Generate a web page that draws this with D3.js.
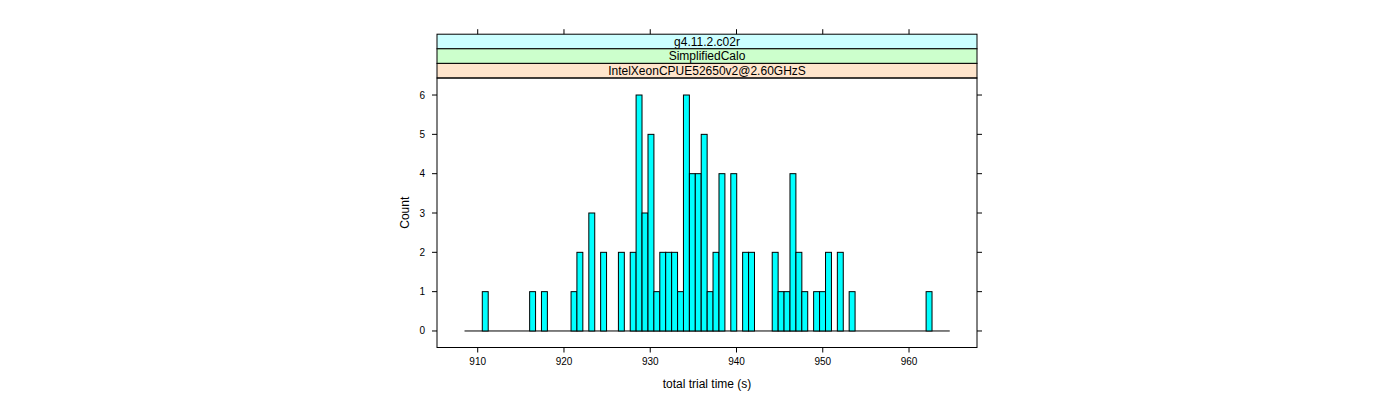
<!DOCTYPE html>
<html>
<head>
<meta charset="utf-8">
<script src="https://cdn.jsdelivr.net/npm/d3@7.9.0/dist/d3.min.js"></script>
<style>
  body { margin: 0; background: #fff; }
  svg text { font-family: "Liberation Sans", Arial, sans-serif; fill: #000; }
</style>
</head>
<body>
<svg id="chart" width="1400" height="400"></svg>
<script>
// Histogram data (left edge of each non-empty bin, in seconds, and its count)
const binLeft = [910.53, 916.02, 917.39, 920.82, 921.50, 922.88, 924.25, 926.31, 927.68,
  928.36, 929.05, 929.74, 930.42, 931.11, 931.79, 932.48, 933.17, 933.85, 934.54, 935.22,
  935.91, 936.60, 937.28, 937.97, 939.34, 940.71, 941.40, 944.14, 944.83, 945.51, 946.20,
  946.89, 947.57, 948.94, 949.63, 950.32, 951.69, 953.06, 961.98];
const counts = [1, 1, 1, 1, 2, 3, 2, 2, 2,
  6, 3, 5, 1, 2, 2, 2, 1, 6, 4, 4,
  5, 1, 2, 4, 4, 2, 2, 2, 1, 1, 4,
  2, 1, 1, 1, 2, 2, 1, 1];
const binWidth = 0.686;
const breaksRange = [908.47, 964.72];

const xTicks = [910, 920, 930, 940, 950, 960];
const yTicks = [0, 1, 2, 3, 4, 5, 6];

// strips, outermost first (drawn top to bottom)
const stripLabels = ['g4.11.2.c02r', 'SimplifiedCalo', 'IntelXeonCPUE52650v2@2.60GHzS'];
const stripColors = ['#ccffff', '#ccffcc', '#ffe5cc'];

const svg = d3.select('#chart');

const panel = { left: 437, right: 977, top: 78, bottom: 347.5 };
const stripH = 14.6;

const x = d3.scaleLinear().domain([905.28, 967.88]).range([panel.left, panel.right]);
const y = d3.scaleLinear().domain([-0.42, 6.42]).range([panel.bottom, panel.top + 0.5]);

// strips
stripLabels.forEach((lab, i) => {
  const top = panel.top - stripH * (stripLabels.length - i);
  svg.append('rect')
    .attr('x', panel.left).attr('y', top)
    .attr('width', panel.right - panel.left).attr('height', stripH)
    .attr('fill', stripColors[i])
    .attr('stroke', '#000').attr('stroke-width', 1);
  svg.append('text')
    .attr('x', (panel.left + panel.right) / 2)
    .attr('y', top + stripH / 2 + 4)
    .attr('text-anchor', 'middle')
    .attr('font-size', 12)
    .text(lab);
});

// baseline (empty bins)
svg.append('line')
  .attr('x1', x(breaksRange[0])).attr('x2', x(breaksRange[1]))
  .attr('y1', y(0)).attr('y2', y(0))
  .attr('stroke', '#000').attr('stroke-width', 1);

// bars
svg.append('g').selectAll('rect')
  .data(binLeft.map((b, i) => ({ b, c: counts[i] })))
  .join('rect')
  .attr('x', d => x(d.b))
  .attr('width', d => x(d.b + binWidth) - x(d.b))
  .attr('y', d => y(d.c))
  .attr('height', d => y(0) - y(d.c))
  .attr('fill', '#00ffff')
  .attr('stroke', '#000')
  .attr('stroke-width', 1);

// panel border
svg.append('rect')
  .attr('x', panel.left).attr('y', panel.top)
  .attr('width', panel.right - panel.left).attr('height', panel.bottom - panel.top)
  .attr('fill', 'none').attr('stroke', '#000').attr('stroke-width', 1);

const stripTop = panel.top - stripH * stripLabels.length;

// x ticks: bottom with labels, top without
const tickG = svg.append('g').attr('stroke', '#000').attr('stroke-width', 1);
xTicks.forEach(t => {
  tickG.append('line').attr('x1', x(t)).attr('x2', x(t))
    .attr('y1', panel.bottom).attr('y2', panel.bottom + 5);
  tickG.append('line').attr('x1', x(t)).attr('x2', x(t))
    .attr('y1', stripTop).attr('y2', stripTop - 5);
  svg.append('text')
    .attr('x', x(t)).attr('y', panel.bottom + 17)
    .attr('text-anchor', 'middle').attr('font-size', 10)
    .text(t);
});

// y ticks: left with labels, right without
yTicks.forEach(t => {
  tickG.append('line').attr('x1', panel.left - 5).attr('x2', panel.left)
    .attr('y1', y(t)).attr('y2', y(t));
  tickG.append('line').attr('x1', panel.right).attr('x2', panel.right + 5)
    .attr('y1', y(t)).attr('y2', y(t));
  svg.append('text')
    .attr('x', panel.left - 12).attr('y', y(t) + 3.5)
    .attr('text-anchor', 'end').attr('font-size', 10)
    .text(t);
});

// axis titles
svg.append('text')
  .attr('x', (panel.left + panel.right) / 2).attr('y', 388)
  .attr('text-anchor', 'middle').attr('font-size', 12)
  .text('total trial time (s)');

svg.append('text')
  .attr('transform', `translate(409,${(panel.top + panel.bottom) / 2}) rotate(-90)`)
  .attr('text-anchor', 'middle').attr('font-size', 12)
  .text('Count');
</script>
</body>
</html>
